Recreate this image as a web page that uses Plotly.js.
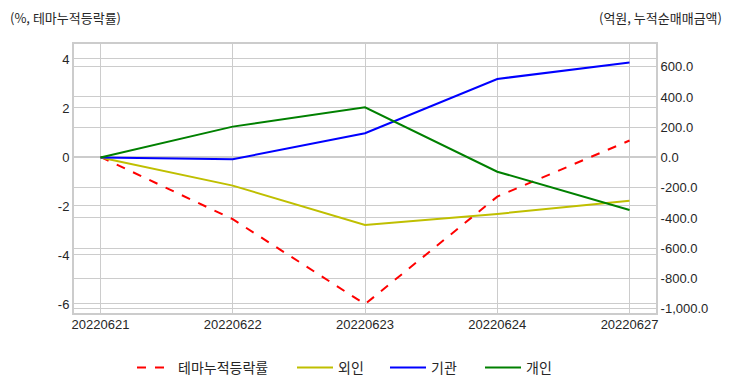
<!DOCTYPE html>
<html>
<head>
<meta charset="utf-8">
<script src="https://cdn.plot.ly/plotly-3.0.1.min.js"></script>
<style>html,body{margin:0;padding:0;background:#fff;}#chart{width:732px;height:392px;}</style>
</head>
<body>
<div id="chart"></div>
<script>
const dates = ["20220621", "20220622", "20220623", "20220624", "20220627"];
const themeRate = [0, -2.54, -6.01, -1.62, 0.67];
const foreign = [0, -186, -446, -373, -286];
const institution = [0, -12, 160, 519, 627];
const individual = [0, 204, 332, -94, -347];

const leftTickVals = [4, 2, 0, -2, -4, -6];
const leftTickText = ["4", "2", "0", "-2", "-4", "-6"];
const rightTickVals = [600, 400, 200, 0, -200, -400, -600, -800, -1000];
const rightTickText = ["600.0", "400.0", "200.0", "0.0", "-200.0", "-400.0", "-600.0", "-800.0", "-1,000.0"];

const FONT = "Liberation Sans, Arial, 'Noto Sans CJK KR', sans-serif";
const KFONT = "'Noto Sans CJK KR', 'Liberation Sans', sans-serif";

const traces = [
  {x: dates, y: themeRate, name: "테마누적등락률", type: "scatter", mode: "lines",
   line: {color: "#ff0000", width: 2, dash: "dash"}, yaxis: "y", legend: "legend"},
  {x: dates, y: foreign, name: "외인", type: "scatter", mode: "lines",
   line: {color: "#bfbf00", width: 2}, yaxis: "y2", legend: "legend2"},
  {x: dates, y: institution, name: "기관", type: "scatter", mode: "lines",
   line: {color: "#0000ff", width: 2}, yaxis: "y2", legend: "legend3"},
  {x: dates, y: individual, name: "개인", type: "scatter", mode: "lines",
   line: {color: "#008000", width: 2}, yaxis: "y2", legend: "legend4"}
];

function px2paper(px) { return (px - 74) / 582; }
function mkLegend(px) {
  return {orientation: "h", x: px2paper(px), xanchor: "left", xref: "paper",
          yref: "container", y: 1 - 368 / 392, yanchor: "middle", itemwidth: 36,
          font: {family: KFONT, size: 14, color: "#262626"}, bgcolor: "rgba(0,0,0,0)"};
}

const layout = {
  width: 732, height: 392,
  margin: {l: 74, r: 76, t: 44, b: 79, pad: 0},
  paper_bgcolor: "#fff", plot_bgcolor: "#fff",
  font: {family: FONT, size: 13, color: "#262626"},
  showlegend: true,
  legend: mkLegend(132),
  legend2: mkLegend(292),
  legend3: mkLegend(385),
  legend4: mkLegend(480),
  xaxis: {type: "category", range: [-0.2, 4.2], showgrid: true, gridcolor: "#cccccc", gridwidth: 1,
          showline: true, linecolor: "#cccccc", linewidth: 2, mirror: true, zeroline: false,
          ticks: "", tickfont: {size: 13}, ticklabelstandoff: -2},
  yaxis: {range: [-6.37, 4.61], tickvals: leftTickVals, ticktext: leftTickText,
          showgrid: true, gridcolor: "#cccccc", gridwidth: 1, zeroline: false,
          showline: true, linecolor: "#cccccc", linewidth: 2, ticks: "", tickfont: {size: 13}},
  yaxis2: {overlaying: "y", side: "right", range: [-1028, 750], tickvals: rightTickVals, ticktext: rightTickText,
           showgrid: true, gridcolor: "#cccccc", gridwidth: 1, zeroline: false,
           showline: true, linecolor: "#cccccc", linewidth: 2, ticks: "", tickfont: {size: 13}},
  annotations: [
    {text: "(%, 테마누적등락률)", xref: "paper", yref: "paper", x: -74/582, xanchor: "left",
     y: 1, yshift: 27, yanchor: "middle", showarrow: false, font: {family: KFONT, size: 13, color: "#262626"}, xshift: 8},
    {text: "(억원, 누적순매매금액)", xref: "paper", yref: "paper", x: 1 + 76/582, xanchor: "right",
     y: 1, yshift: 27, yanchor: "middle", showarrow: false, font: {family: KFONT, size: 13, color: "#262626"}, xshift: -8}
  ]
};

Plotly.newPlot("chart", traces, layout, {displayModeBar: false, staticPlot: true});
</script>
</body>
</html>
